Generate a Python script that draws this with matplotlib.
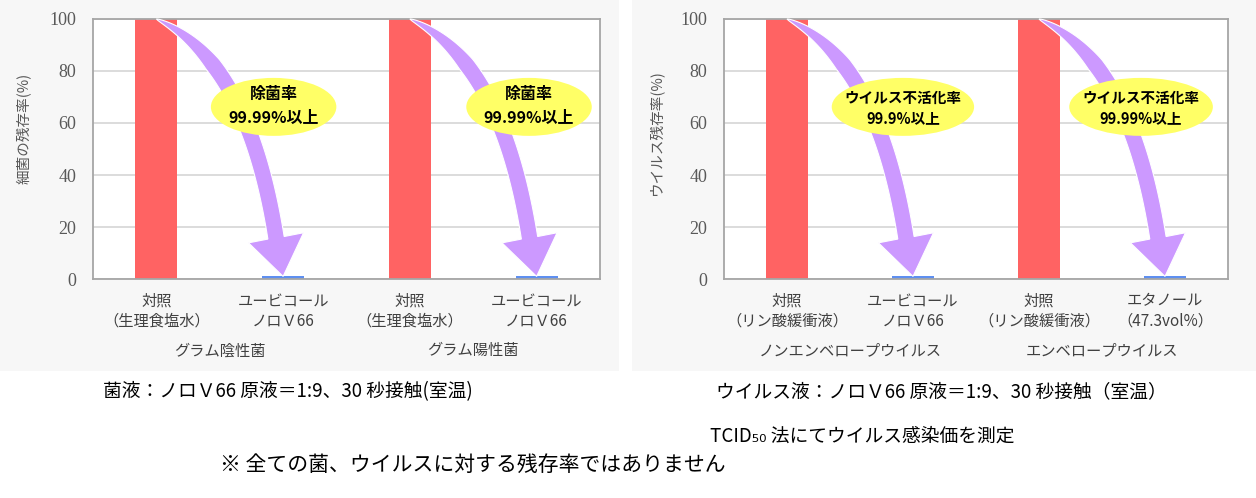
import matplotlib
matplotlib.use("Agg")
import matplotlib.pyplot as plt
import numpy as np
from matplotlib.patches import Rectangle, Ellipse, Polygon

plt.rcParams['font.family'] = ['Noto Sans CJK JP', 'DejaVu Sans']

# ---------------- data ----------------
bact_labels = ["対照\n（生理食塩水）", "ユービコール\nノロＶ66", "対照\n（生理食塩水）", "ユービコール\nノロＶ66"]
bact_values = [100, 1, 100, 1]
bact_groups = ["グラム陰性菌", "グラム陽性菌"]
bact_ylabel = "細菌の残存率(%)"
bact_bubbles = [("除菌率", "99.99%以上"), ("除菌率", "99.99%以上")]

virus_labels = ["対照\n（リン酸緩衝液）", "ユービコール\nノロＶ66", "対照\n（リン酸緩衝液）", "エタノール\n（47.3vol%）"]
virus_values = [100, 1, 100, 1]
virus_groups = ["ノンエンベロープウイルス", "エンベロープウイルス"]
virus_ylabel = "ウイルス残存率(%)"
virus_bubbles = [("ウイルス不活化率", "99.9%以上"), ("ウイルス不活化率", "99.99%以上")]

yticks = [0, 20, 40, 60, 80, 100]

note_bact = "菌液：ノロＶ66 原液＝1:9、30 秒接触(室温)"
note_virus = "ウイルス液：ノロＶ66 原液＝1:9、30 秒接触（室温）"
note_tcid = "TCID₅₀ 法にてウイルス感染価を測定"
note_all = "※ 全ての菌、ウイルスに対する残存率ではありません"

# ---------------- style ----------------
RED = '#ff6363'
BLUE = '#5e8ff0'
PURPLE = '#cc99ff'
YELLOW = '#ffff66'
PANEL = '#f7f7f7'
GRID = '#d9d9d9'
FRAME = '#a6a6a6'
TXT = '#404040'
bar_colors = [RED, BLUE, RED, BLUE]

W, H = 1256, 498
fig = plt.figure(figsize=(W / 100, H / 100), dpi=100)
fig.patch.set_facecolor('white')


def fx(px):
    return px / W


def fy(py):
    return 1 - py / H


# panel backgrounds
fig.add_artist(Rectangle((0, fy(371)), fx(619), 371 / H, transform=fig.transFigure,
                         facecolor=PANEL, edgecolor='none', zorder=0))
fig.add_artist(Rectangle((fx(632), fy(371)), fx(W - 632), 371 / H, transform=fig.transFigure,
                         facecolor=PANEL, edgecolor='none', zorder=0))


def curved_arrow(ax, x0, y0, x1, y1):
    T = ax.transData
    p0 = np.array(T.transform((x0, y0)))
    tip = np.array(T.transform((x1, y1)))
    d = tip - p0
    p1 = p0 + np.array([0.722 * d[0], 0.158 * d[1]])
    pb = p0 + np.array([0.944 * d[0], 0.850 * d[1]])
    t = np.linspace(0, 1, 100)[:, None]
    B = (1 - t) ** 2 * p0 + 2 * t * (1 - t) * p1 + t ** 2 * pb
    dB = 2 * (1 - t) * (p1 - p0) + 2 * t * (pb - p1)
    n = np.column_stack([-dB[:, 1], dB[:, 0]])
    n /= np.linalg.norm(n, axis=1)[:, None]
    tt = t[:, 0]
    w = 16.5 * np.minimum(1.0, tt / 0.35) ** 0.7
    left = B + (w / 2)[:, None] * n
    right = B - (w / 2)[:, None] * n
    hd = tip - pb
    hd /= np.linalg.norm(hd)
    hn = np.array([-hd[1], hd[0]])
    c1 = pb + 28 * hn
    c2 = pb - 28 * hn
    pts = np.vstack([left, c1, tip, c2, right[::-1]])
    pts_data = T.inverted().transform(pts)
    ax.add_patch(Polygon(pts_data, closed=True, facecolor=PURPLE, edgecolor='white',
                         linewidth=0.8, zorder=3, clip_on=False))


def draw_panel(ax, labels, values, groups, bubbles, bubble_pos, bubble_w, line_y, bubble_fs,
               ylabel, ylabel_xy):
    ax.set_facecolor('white')
    ax.bar(range(len(values)), values, width=0.333, color=bar_colors, zorder=2)
    ax.set_xlim(-0.5, 3.5)
    ax.set_ylim(0, 100)
    ax.set_yticks(yticks)
    ax.set_xticks([])
    ax.tick_params(axis='y', length=0, pad=12, labelsize=13, labelcolor='#595959')
    for lab in ax.get_yticklabels():
        lab.set_fontfamily('Liberation Serif')
    ax.grid(axis='y', color=GRID, linewidth=1.3, zorder=0)
    ax.set_axisbelow(True)
    for s in ax.spines.values():
        s.set_color(FRAME)
        s.set_linewidth(1.3)
    # category labels
    for i, lab in enumerate(labels):
        l1, l2 = lab.split('\n')
        ax.annotate(l1, xy=(i, 0), xycoords=('data', 'axes fraction'), xytext=(0, -22 * 0.72),
                    textcoords='offset points', ha='center', va='center', fontsize=11, color=TXT)
        ax.annotate(l2, xy=(i, 0), xycoords=('data', 'axes fraction'), xytext=(0, -42 * 0.72),
                    textcoords='offset points', ha='center', va='center', fontsize=11, color=TXT)
    for g, name in enumerate(groups):
        ax.annotate(name, xy=(2 * g + 0.5, 0), xycoords=('data', 'axes fraction'),
                    xytext=(0, -72 * 0.72), textcoords='offset points',
                    ha='center', va='center', fontsize=11, color=TXT)
    # arrows
    for g in range(2):
        i = 2 * g
        curved_arrow(ax, i, values[i], i + 1, values[i + 1])
    # bubbles
    for (t1, t2), (cx, cy), bw, (ya, yb) in zip(bubbles, bubble_pos, bubble_w, line_y):
        ax.add_patch(Ellipse((cx, cy), bw, 22.3, facecolor=YELLOW, edgecolor='none', zorder=4))
        ax.text(cx, ya, t1, ha='center', va='center', fontsize=bubble_fs, fontweight='bold',
                color='black', zorder=5)
        ax.text(cx, yb, t2, ha='center', va='center', fontsize=bubble_fs, fontweight='bold',
                color='black', zorder=5)
    fig.text(fx(ylabel_xy[0]), fy(ylabel_xy[1]), ylabel, rotation=90, ha='center', va='center',
             fontsize=10.5, color='#595959')


ax1 = fig.add_axes([fx(93), fy(279), fx(600 - 93), 260 / H])
ax2 = fig.add_axes([fx(724), fy(279), fx(1228 - 724), 260 / H])

draw_panel(ax1, bact_labels, bact_values, bact_groups, bact_bubbles,
           [(0.925, 66.2), (2.94, 66.2)], [0.99, 0.99], [(71.2, 62.0), (71.2, 62.0)], 11.5,
           bact_ylabel, (24, 128))
draw_panel(ax2, virus_labels, virus_values, virus_groups, virus_bubbles,
           [(0.92, 66.2), (2.81, 66.2)], [1.13, 1.14], [(69.6, 62.0), (69.6, 62.0)], 10.5,
           virus_ylabel, (656, 133))

# bottom notes
fig.text(fx(103), fy(392), note_bact, ha='left', va='center', fontsize=13.5, color='black')
fig.text(fx(716), fy(392), note_virus, ha='left', va='center', fontsize=13.5, color='black')
fig.text(fx(710), fy(436), note_tcid, ha='left', va='center', fontsize=13.5, color='black')
fig.text(fx(220), fy(465), note_all, ha='left', va='center', fontsize=15, color='black')

fig.savefig('out.png', dpi=100, facecolor='white')
